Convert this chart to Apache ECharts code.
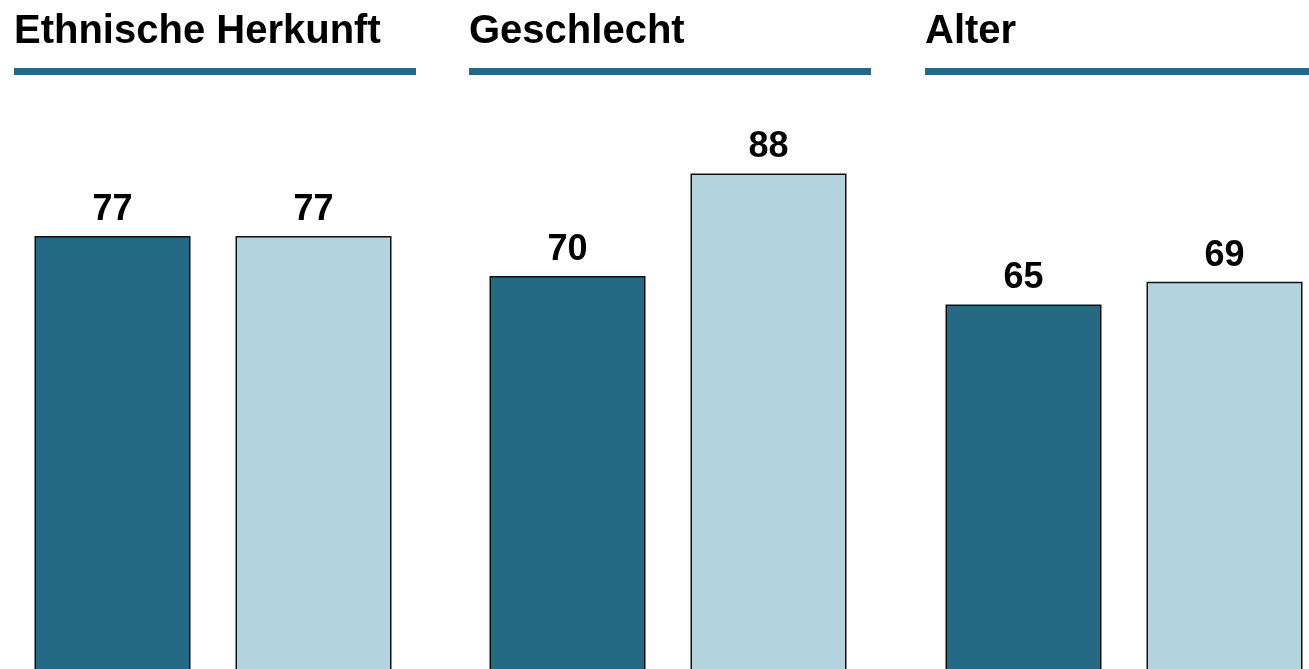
<!DOCTYPE html>
<html>
<head>
<meta charset="utf-8">
<script src="https://cdn.jsdelivr.net/npm/echarts@6/dist/echarts.min.js"></script>
<style>
  html, body { margin: 0; padding: 0; background: #fff; }
  #chart { width: 1309px; height: 669px; }
</style>
</head>
<body>
<div id="chart"></div>
<script>
// Panels and their two bars (dark = first group, light = second group)
const panelTitles = ["Ethnische Herkunft", "Geschlecht", "Alter"];
const categories = ["A", "B"];
const panelValues = [
  [77, 77],
  [70, 88],
  [65, 69]
];
const barColors = ["#256985", "#b3d3de"];

const panelLeft = [14, 469, 925];
const panelWidth = 402;

const chart = echarts.init(document.getElementById("chart"));

const grid = [], xAxis = [], yAxis = [], series = [], title = [], graphic = [];

panelTitles.forEach((name, i) => {
  grid.push({
    left: panelLeft[i] - 2,
    width: panelWidth,
    top: 105,
    height: 570,
    outerBoundsMode: "none",
    containLabel: false
  });
  xAxis.push({
    type: "category",
    gridIndex: i,
    data: categories,
    axisLine: { show: false },
    axisTick: { show: false },
    axisLabel: { show: false }
  });
  yAxis.push({
    type: "value",
    gridIndex: i,
    min: 0,
    max: 100,
    show: false,
    splitLine: { show: false }
  });
  series.push({
    type: "bar",
    xAxisIndex: i,
    yAxisIndex: i,
    barWidth: 156,
    data: panelValues[i].map((v, j) => ({
      value: v,
      itemStyle: { color: barColors[j] }
    })),
    itemStyle: { borderColor: "#111", borderWidth: 1.5 },
    label: {
      show: true,
      position: "top",
      distance: 8,
      color: "#000",
      fontFamily: "Liberation Sans, Arial, sans-serif",
      fontWeight: "bold",
      fontSize: 36
    },
    silent: true
  });
  title.push({
    text: name,
    left: panelLeft[i],
    top: 12,
    padding: 0,
    textStyle: {
      color: "#000",
      fontFamily: "Liberation Sans, Arial, sans-serif",
      fontWeight: "bold",
      fontSize: 40
    }
  });
  graphic.push({
    type: "rect",
    shape: { x: panelLeft[i], y: 68, width: panelWidth, height: 7 },
    style: { fill: "#256985" }
  });
});

chart.setOption({
  animation: false,
  title: title,
  grid: grid,
  xAxis: xAxis,
  yAxis: yAxis,
  series: series,
  graphic: graphic
});
</script>
</body>
</html>
